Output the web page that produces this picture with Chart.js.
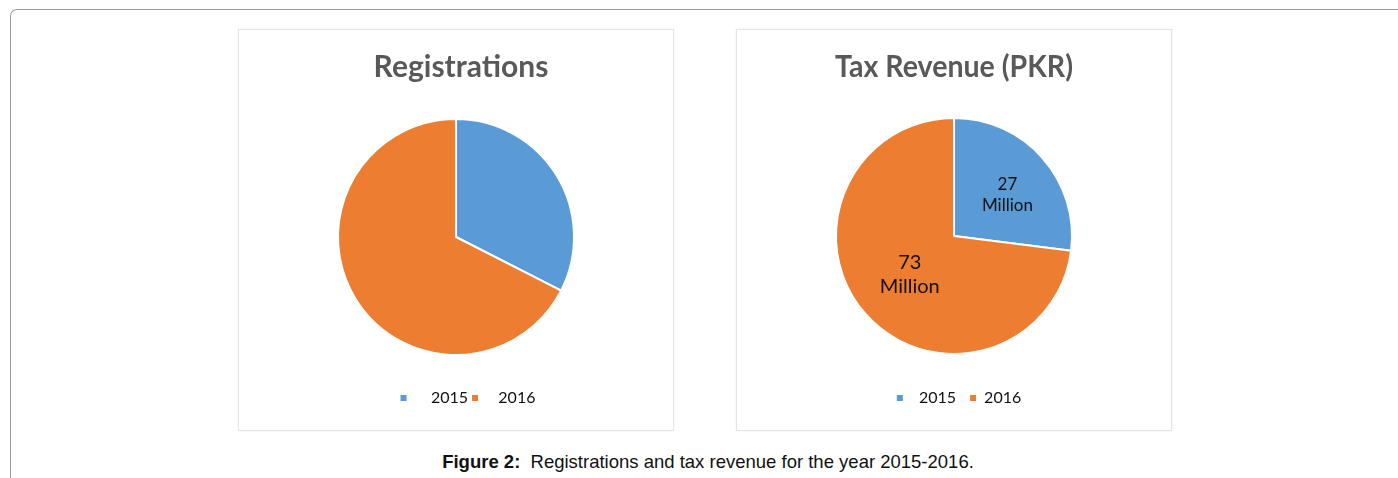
<!DOCTYPE html>
<html>
<head>
<meta charset="utf-8">
<script src="https://cdn.jsdelivr.net/npm/chart.js@4/dist/chart.umd.min.js"></script>
<style>
  body { margin: 0; background: #fff; width: 1398px; height: 478px; overflow: hidden; position: relative; }
  .frame { position: absolute; left: 10px; top: 9px; width: 1500px; height: 600px;
    border-top: 1px solid #9a9a9a; border-left: 1px solid #9a9a9a; border-top-left-radius: 7px; }
  .panel { position: absolute; top: 29px; width: 434px; height: 400px;
    border: 1px solid #e4e4e4; box-shadow: 0 0 3px rgba(0,0,0,0.06); background: #fff; }
  .panel canvas { display: block; }
  .caption { position: absolute; top: 451px; left: 0; width: 1416px; text-align: center;
    font-family: "Liberation Sans", Arial, sans-serif; font-size: 18.5px; color: #111; }
</style>
</head>
<body>
<div class="frame"></div>
<div class="panel" style="left:238px"><canvas id="reg" width="434" height="400"></canvas></div>
<div class="panel" style="left:736px"><canvas id="tax" width="434" height="400"></canvas></div>
<div class="caption"><b>Figure 2:</b>&nbsp; Registrations and tax revenue for the year 2015-2016.</div>
<script>
// data
var years = ['2015', '2016'];
var registrations = [32.5, 67.5];
var taxRevenue = [27, 73];
var taxLabels = [['27', 'Million'], ['73', 'Million']];
var colors = ['#5b9bd5', '#ed7d31'];

// draws the "xx Million" labels inside the slices
var sliceLabels = {
    id: 'sliceLabels',
    afterDatasetsDraw: function (chart, args, opts) {
        if (!opts.lines) return;
        var ctx = chart.ctx;
        var arcs = chart.getDatasetMeta(0).data;
        ctx.save();
        ctx.fillStyle = '#111';
        ctx.textAlign = 'center';
        ctx.textBaseline = 'middle';
        arcs.forEach(function (arc, i) {
            var mid = (arc.startAngle + arc.endAngle) / 2 + opts.turn[i];
            var r = arc.outerRadius * opts.dist[i];
            var x = arc.x + Math.cos(mid) * r;
            var y = arc.y + Math.sin(mid) * r;
            var size = opts.sizes[i];
            ctx.font = size + 'px Lato, "Open Sans", sans-serif';
            var lines = opts.lines[i];
            var lh = size * 1.2;
            lines.forEach(function (t, k) {
                ctx.fillText(t, x, y + (k - (lines.length - 1) / 2) * lh);
            });
        });
        ctx.restore();
    }
};

// the original legend/title sit a bit right of the pie centre
var nudge = {
    id: 'nudge',
    afterLayout: function (chart, args, opts) {
        chart.legend.left += opts.legend;
        chart.legend.right += opts.legend;
        chart.titleBlock.left += opts.title;
        chart.titleBlock.right += opts.title;
    }
};

function makePie(id, title, values, lines, pre, gap, below, shift) {
    return new Chart(document.getElementById(id), {
        type: 'pie',
        data: {
            labels: years,
            datasets: [{
                data: values,
                backgroundColor: colors,
                borderColor: '#fff',
                borderWidth: 2
            }]
        },
        options: {
            responsive: false,
            animation: false,
            layout: { padding: { left: 98, right: 98, top: 0, bottom: 14 } },
            plugins: {
                title: {
                    display: true,
                    text: title,
                    color: '#595959',
                    font: { family: 'Lato', size: 30, weight: 'bold' },
                    padding: { top: 19, bottom: below }
                },
                legend: {
                    position: 'bottom',
                    labels: {
                        boxWidth: 6,
                        boxHeight: 6,
                        padding: gap,
                        color: '#111',
                        font: { family: 'Lato', size: 16 },
                        generateLabels: function (chart) {
                            return Chart.overrides.pie.plugins.legend.labels.generateLabels(chart).map(function (l, i) {
                                l.text = pre[i] + l.text;
                                l.lineWidth = 0;
                                return l;
                            });
                        }
                    }
                },
                tooltip: { enabled: false },
                sliceLabels: { lines: lines, sizes: [17, 20], dist: [0.57, 0.5], turn: [0.07, 0] },
                nudge: shift
            }
        },
        plugins: [sliceLabels, nudge]
    });
}

makePie('reg', 'Registrations', registrations, null, ['    ', '   '], 4, 3, { legend: 12, title: 5 });
makePie('tax', 'Tax Revenue (PKR)', taxRevenue, taxLabels, ['  ', ''], 14, 11, { legend: 5, title: 0 });
</script>
</body>
</html>
